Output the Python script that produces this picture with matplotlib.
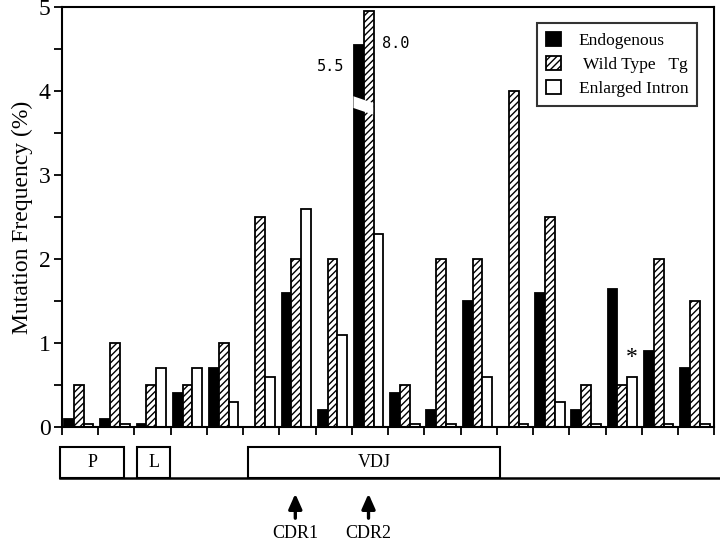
import numpy as np
import matplotlib
matplotlib.use("Agg")
import matplotlib.pyplot as plt
from matplotlib.patches import Rectangle, Polygon

plt.rcParams['font.family'] = ['Liberation Serif', 'DejaVu Serif']
plt.rcParams['hatch.linewidth'] = 1.0

# mutation frequency (%) per region
endogenous = [0.1, 0.1, 0.03, 0.4, 0.7, 0.0, 1.6, 0.2, 5.5, 0.4, 0.2, 1.5, 0.0, 1.6, 0.2, 1.65, 0.9, 0.7]
wild_type = [0.5, 1.0, 0.5, 0.5, 1.0, 2.5, 2.0, 2.0, 8.0, 0.5, 2.0, 2.0, 4.0, 2.5, 0.5, 0.5, 2.0, 1.5]
enlarged = [0.03, 0.03, 0.7, 0.7, 0.3, 0.6, 2.6, 1.1, 2.3, 0.03, 0.03, 0.6, 0.03, 0.3, 0.03, 0.6, 0.03, 0.03]
series_names = ["Endogenous", " Wild Type   Tg", "Enlarged Intron"]

# off-scale bars are drawn broken at this height
broken_idx = 8
broken_draw = {"endo": 4.55, "wt": 4.95}
star_idx = 15

# gene map regions (in group units)
regions = [("P", -0.05, 1.72), ("L", 2.07, 2.99), ("VDJ", 5.14, 12.08)]
cdr_marks = [("CDR1", 6.44), ("CDR2", 8.46)]

n = len(endogenous)
x = np.arange(n)
w = 0.27

endo_draw = np.array(endogenous, dtype=float)
wt_draw = np.array(wild_type, dtype=float)
endo_draw[broken_idx] = broken_draw["endo"]
wt_draw[broken_idx] = broken_draw["wt"]

fig = plt.figure(figsize=(7.2, 5.43), dpi=100)
ax = fig.add_axes([0.086, 0.2136, 0.906, 0.773])

ax.bar(x + 0.06, endo_draw, w, align='edge', color='black', edgecolor='black', lw=1.3,
       label=series_names[0])
ax.bar(x + 0.06 + w, wt_draw, w, align='edge', color='white', edgecolor='black', lw=1.3,
       hatch='/////', label=series_names[1])
ax.bar(x + 0.06 + 2 * w, enlarged, w, align='edge', color='white', edgecolor='black', lw=1.3,
       label=series_names[2])

# axis break on the off-scale bars
x0 = broken_idx + 0.045
x1 = broken_idx + 0.06 + 2 * w - 0.01
brk = Polygon([[x0, 3.94], [x1, 3.86], [x1, 3.72], [x0, 3.80]], closed=True,
              facecolor='white', edgecolor='none', zorder=5)
ax.add_patch(brk)
ax.text(broken_idx - 0.6, 4.29, f"{endogenous[broken_idx]:.1f}", family='DejaVu Sans Mono',
        fontsize=11, ha='center', va='center')
ax.text(broken_idx + 1.2, 4.57, f"{wild_type[broken_idx]:.1f}", family='DejaVu Sans Mono',
        fontsize=11, ha='center', va='center')
ax.text(star_idx + 0.06 + 2.5 * w, enlarged[star_idx] + 0.1, "*", fontsize=17,
        ha='center', va='bottom')

ax.set_xlim(0, n)
ax.set_ylim(0, 5)
ax.set_xticks(np.arange(n + 1))
ax.set_xticklabels([])
ax.set_yticks(np.arange(0, 6))
ax.set_yticks(np.arange(0.5, 5, 1), minor=True)
ax.tick_params(axis='both', which='both', direction='out', width=1.3, length=6)
ax.tick_params(axis='y', labelsize=17, pad=2)
ax.set_ylabel("Mutation Frequency (%)", fontsize=17, labelpad=4)
for s in ax.spines.values():
    s.set_linewidth(1.5)

leg = ax.legend(loc='upper right', bbox_to_anchor=(0.987, 0.983), fontsize=12.5, frameon=True,
                fancybox=False, edgecolor='black', handlelength=0.9, handleheight=0.9,
                handletextpad=1.0, borderpad=0.5, labelspacing=0.4)
leg.get_frame().set_linewidth(1.5)

# gene map below the chart
ax2 = fig.add_axes([0.086, 0.0, 0.906, 0.2136 - 0.02], sharex=ax)
ax2.set_ylim(0, 105)
ax2.axis('off')
ax2.plot([regions[0][1], n + 0.2], [65, 65], color='black', lw=1.8, clip_on=False)
for name, a, b in regions:
    ax2.add_patch(Rectangle((a, 65), b - a, 31, facecolor='white', edgecolor='black', lw=1.5,
                            clip_on=False, zorder=3))
    ax2.text((a + b) / 2, 80, name, fontsize=13, ha='center', va='center', zorder=4)
for name, xc in cdr_marks:
    ax2.annotate("", xy=(xc, 52), xytext=(xc, 22),
                 arrowprops=dict(arrowstyle='-|>,head_length=0.9,head_width=0.4', color='black',
                                 lw=2.4))
    ax2.text(xc, 9, name, fontsize=13, ha='center', va='center')

fig.savefig("out.png", dpi=100)
